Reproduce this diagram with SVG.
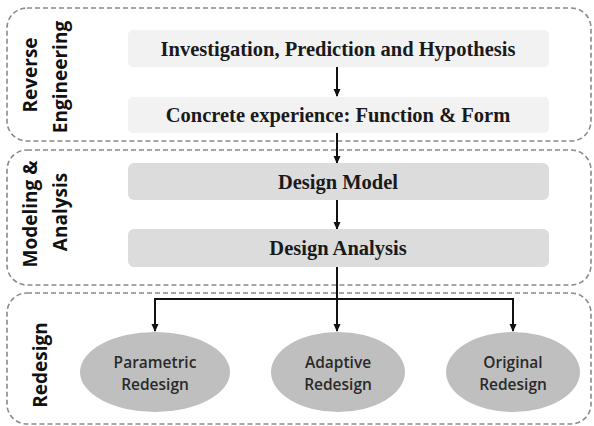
<svg xmlns="http://www.w3.org/2000/svg" width="594" height="426" viewBox="0 0 594 426">
  <style>
    .panel { fill: none; stroke: #8a8a8a; stroke-width: 1.6; stroke-dasharray: 5 3; }
    .box-light { fill: #f2f2f2; }
    .box-mid { fill: #dcdcdc; }
    .ell { fill: #bfbfbf; }
    .serif { font-family: "Liberation Serif", "Times New Roman", serif; font-weight: bold; font-size: 20.5px; fill: #1a1a1a; text-anchor: middle; }
    .sans { font-family: "Open Sans", "Liberation Sans", sans-serif; font-weight: bold; font-size: 19px; fill: #111; text-anchor: middle; }
    .ellt { font-family: "Open Sans", "Liberation Sans", sans-serif; font-weight: 600; font-size: 15.5px; fill: #2a2a2a; text-anchor: middle; }
    .wire { fill: none; stroke: #111; stroke-width: 2; }
  </style>
  <defs>
    <marker id="arrow" markerWidth="8" markerHeight="9" refX="7" refY="4" orient="auto" markerUnits="userSpaceOnUse">
      <path d="M0,0.5 L8,4 L0,7.5 z" fill="#111"/>
    </marker>
  </defs>
  <rect width="594" height="426" fill="#ffffff"/>

  <!-- stage panels -->
  <g id="panel-reverse">
    <rect class="panel" x="7" y="8" width="584" height="133" rx="20"/>
    <text class="sans" transform="translate(37,75) rotate(-90)">Reverse</text>
    <text class="sans" transform="translate(67,77) rotate(-90)">Engineering</text>
  </g>
  <g id="panel-modeling">
    <rect class="panel" x="7" y="150" width="584" height="135" rx="20"/>
    <text class="sans" transform="translate(37,214) rotate(-90)">Modeling &amp;</text>
    <text class="sans" transform="translate(67,212) rotate(-90)">Analysis</text>
  </g>
  <g id="panel-redesign">
    <rect class="panel" x="7" y="293" width="584" height="131" rx="20"/>
    <text class="sans" transform="translate(47,365) rotate(-90)">Redesign</text>
  </g>

  <!-- connectors -->
  <g id="connectors">
    <line class="wire" x1="337" y1="67" x2="337" y2="96" marker-end="url(#arrow)"/>
    <line class="wire" x1="337" y1="133" x2="337" y2="163" marker-end="url(#arrow)"/>
    <line class="wire" x1="337" y1="200" x2="337" y2="229" marker-end="url(#arrow)"/>
    <line class="wire" x1="337" y1="267" x2="337" y2="331" marker-end="url(#arrow)"/>
    <polyline class="wire" points="337,299 155,299 155,331" marker-end="url(#arrow)"/>
    <polyline class="wire" points="337,299 513,299 513,331" marker-end="url(#arrow)"/>
  </g>

  <!-- process boxes -->
  <g id="investigation">
    <rect class="box-light" x="128" y="30" width="421" height="37" rx="5"/>
    <text class="serif" x="338" y="56">Investigation, Prediction and Hypothesis</text>
  </g>
  <g id="concrete-experience">
    <rect class="box-light" x="128" y="97" width="421" height="36" rx="5"/>
    <text class="serif" x="338" y="122">Concrete experience: Function &amp; Form</text>
  </g>
  <g id="design-model">
    <rect class="box-mid" x="128" y="163" width="421" height="37" rx="6"/>
    <text class="serif" x="338" y="189">Design Model</text>
  </g>
  <g id="design-analysis">
    <rect class="box-mid" x="128" y="229" width="421" height="38" rx="6"/>
    <text class="serif" x="338" y="255">Design Analysis</text>
  </g>

  <!-- redesign outcomes -->
  <g id="parametric">
    <ellipse class="ell" cx="155" cy="372" rx="75" ry="40"/>
    <text class="ellt" x="155" y="368">Parametric</text>
    <text class="ellt" x="155" y="390">Redesign</text>
  </g>
  <g id="adaptive">
    <ellipse class="ell" cx="338" cy="372" rx="67" ry="40"/>
    <text class="ellt" x="338" y="368">Adaptive</text>
    <text class="ellt" x="338" y="390">Redesign</text>
  </g>
  <g id="original">
    <ellipse class="ell" cx="513" cy="372" rx="67" ry="40"/>
    <text class="ellt" x="513" y="368">Original</text>
    <text class="ellt" x="513" y="390">Redesign</text>
  </g>
</svg>
